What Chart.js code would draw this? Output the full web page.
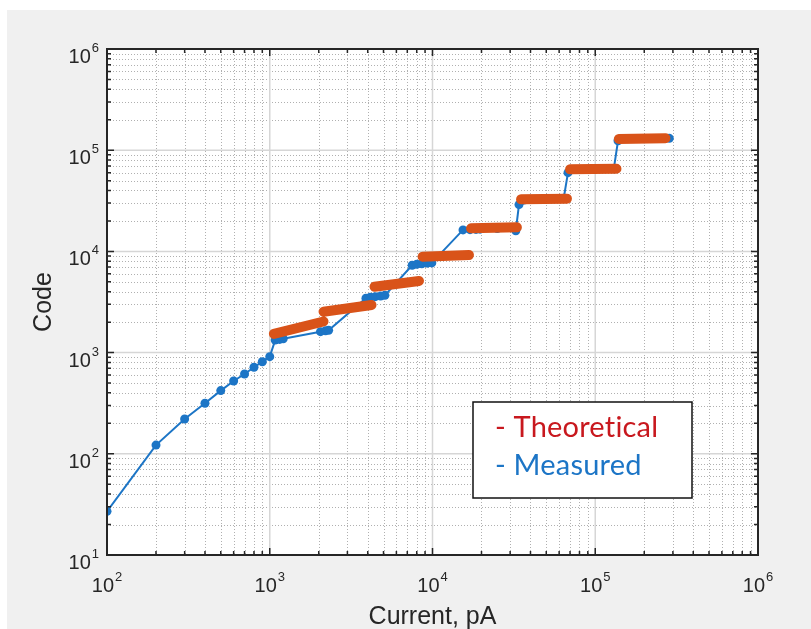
<!DOCTYPE html>
<html lang="en">
<head>
<meta charset="UTF-8">
<title>Code vs Current</title>
<script src="https://cdn.jsdelivr.net/npm/chart.js"></script>
<style>
  html, body { margin: 0; padding: 0; background: #fff; }
  #wrap { width: 811px; height: 629px; position: relative; }
</style>
</head>
<body>
<div id="wrap"><canvas id="chart"></canvas></div>
<script>
// measured sweep, current in pA -> output code
const measuredCurrent = [100, 200, 300, 400, 500, 600, 700, 800, 900, 1000,
    1080, 1150, 1210, 2050, 2200, 2300,
    3900, 4150, 4450, 4800, 5100,
    7500, 8000, 8600, 9300, 9900,
    15400, 17000, 18500, 19600, 25000, 32500,
    34000, 50000, 64000, 68000, 100000, 130000, 138000, 200000, 285000];
const measuredCode = [27, 122, 221, 316, 421, 524, 615, 716, 813, 912,
    1330, 1350, 1370, 1610, 1640, 1660,
    3450, 3520, 3570, 3620, 3680,
    7300, 7450, 7550, 7650, 7700,
    16300, 16400, 16500, 16600, 16800, 16000,
    29000, 33000, 33500, 60000, 65000, 65500, 124000, 130000, 131000];

// theoretical: one straight piece per range
const theoryCurrentFrom = [1060, 2140, 4400, 8690, 17250, 35000, 70000, 139600];
const theoryCurrentTo   = [2140, 4220, 8260, 16750, 33000, 67000, 135000, 270000];
const theoryCodeFrom    = [1530, 2537, 4480, 8870, 16900, 32700, 64700, 129000];
const theoryCodeTo      = [2030, 2954, 5100, 9210, 17300, 33200, 65600, 131000];

const xTickExp = [2, 3, 4, 5, 6];
const yTickExp = [1, 2, 3, 4, 5, 6];
const xTitle = 'Current, pA';
const yTitle = 'Code';
const legendItems = ['- Theoretical', '- Measured'];

const BLUE = '#1c75c6';
const ORANGE = '#d95319';
const AX = '#262626';

const measuredPts = measuredCurrent.map((c, i) => ({ x: c, y: measuredCode[i] }));
const theoryPts = [];
theoryCurrentFrom.forEach((c, i) => {
    theoryPts.push({ x: c, y: theoryCodeFrom[i] });
    theoryPts.push({ x: theoryCurrentTo[i], y: theoryCodeTo[i] });
    theoryPts.push({ x: theoryCurrentTo[i], y: null });
});

const TICK_FONT = '"Liberation Sans", Arial, sans-serif';

function logValues(minExp, maxExp) {
    const out = [];
    for (let e = minExp; e < maxExp; e++) {
        for (let m = 1; m < 10; m++) out.push({ v: m * Math.pow(10, e), major: m === 1 });
    }
    out.push({ v: Math.pow(10, maxExp), major: true });
    return out;
}

const matlabAxes = {
    id: 'matlabAxes',
    beforeDraw(chart) {
        const { ctx, chartArea: a } = chart;
        ctx.save();
        ctx.fillStyle = '#ffffff';
        ctx.fillRect(0, 0, chart.width, chart.height);
        ctx.fillStyle = '#f0f0f0';
        ctx.fillRect(7, 10, chart.width - 7, chart.height - 10);
        ctx.fillStyle = '#ffffff';
        ctx.fillRect(a.left, a.top, a.right - a.left, a.bottom - a.top);
        ctx.restore();
    },
    beforeDatasetsDraw(chart) {
        const { ctx, chartArea: a, scales: { x, y } } = chart;
        const xs = logValues(xTickExp[0], xTickExp[xTickExp.length - 1]);
        const ys = logValues(yTickExp[0], yTickExp[yTickExp.length - 1]);
        ctx.save();
        // minor dotted grid
        ctx.strokeStyle = '#b0b0b0';
        ctx.lineWidth = 1;
        ctx.setLineDash([1, 2]);
        ctx.beginPath();
        xs.filter(t => !t.major).forEach(t => {
            const px = Math.round(x.getPixelForValue(t.v)) + 0.5;
            ctx.moveTo(px, a.top); ctx.lineTo(px, a.bottom);
        });
        ys.filter(t => !t.major).forEach(t => {
            const py = Math.round(y.getPixelForValue(t.v)) + 0.5;
            ctx.moveTo(a.left, py); ctx.lineTo(a.right, py);
        });
        ctx.stroke();
        // major solid grid
        ctx.setLineDash([]);
        ctx.strokeStyle = '#d6d6d6';
        ctx.lineWidth = 1.5;
        ctx.beginPath();
        xs.filter(t => t.major).forEach(t => {
            const px = x.getPixelForValue(t.v);
            ctx.moveTo(px, a.top); ctx.lineTo(px, a.bottom);
        });
        ys.filter(t => t.major).forEach(t => {
            const py = y.getPixelForValue(t.v);
            ctx.moveTo(a.left, py); ctx.lineTo(a.right, py);
        });
        ctx.stroke();
        ctx.restore();
    },
    afterDatasetsDraw(chart) {
        const { ctx, chartArea: a, scales: { x, y } } = chart;
        const xs = logValues(xTickExp[0], xTickExp[xTickExp.length - 1]);
        const ys = logValues(yTickExp[0], yTickExp[yTickExp.length - 1]);
        ctx.save();
        // ticks on all four sides, pointing in
        ctx.strokeStyle = AX;
        ctx.lineWidth = 1.5;
        ctx.beginPath();
        xs.forEach(t => {
            const px = x.getPixelForValue(t.v);
            const len = t.major ? 7 : 4;
            ctx.moveTo(px, a.bottom); ctx.lineTo(px, a.bottom - len);
            ctx.moveTo(px, a.top); ctx.lineTo(px, a.top + len);
        });
        ys.forEach(t => {
            const py = y.getPixelForValue(t.v);
            const len = t.major ? 7 : 4;
            ctx.moveTo(a.left, py); ctx.lineTo(a.left + len, py);
            ctx.moveTo(a.right, py); ctx.lineTo(a.right - len, py);
        });
        ctx.stroke();
        ctx.lineWidth = 2;
        ctx.strokeRect(a.left, a.top, a.right - a.left, a.bottom - a.top);

        // tick labels 10^n
        ctx.fillStyle = AX;
        ctx.textBaseline = 'alphabetic';
        const base = '20px ' + TICK_FONT;
        const sup = '13px ' + TICK_FONT;
        xTickExp.forEach(e => {
            const px = x.getPixelForValue(Math.pow(10, e));
            ctx.font = base; const w1 = ctx.measureText('10').width;
            ctx.font = sup; const w2 = ctx.measureText(String(e)).width;
            const left = px - (w1 + w2 + 1) / 2;
            ctx.textAlign = 'left';
            ctx.font = base; ctx.fillText('10', left, 592);
            ctx.font = sup; ctx.fillText(String(e), left + w1 + 1, 581);
        });
        yTickExp.forEach(e => {
            const py = y.getPixelForValue(Math.pow(10, e));
            ctx.font = sup; const w2 = ctx.measureText(String(e)).width;
            ctx.textAlign = 'right';
            ctx.fillText(String(e), 99, py + 3);
            ctx.font = base; ctx.fillText('10', 99 - w2 - 1, py + 14);
        });

        // axis titles
        ctx.font = '25px ' + TICK_FONT;
        ctx.textAlign = 'center';
        ctx.fillText(xTitle, (a.left + a.right) / 2, 624);
        ctx.save();
        ctx.translate(51, (a.top + a.bottom) / 2);
        ctx.rotate(-Math.PI / 2);
        ctx.fillText(yTitle, 0, 0);
        ctx.restore();

        // text legend box
        ctx.fillStyle = '#ffffff';
        ctx.fillRect(473, 402, 219, 96);
        ctx.strokeStyle = '#111';
        ctx.lineWidth = 1.5;
        ctx.strokeRect(473, 402, 219, 96);
        ctx.textAlign = 'left';
        ctx.letterSpacing = '0.2px';
        ctx.font = '29px Lato, "Open Sans", sans-serif';
        ctx.fillStyle = '#c8181e';
        ctx.fillText(legendItems[0], 495, 437);
        ctx.fillStyle = BLUE;
        ctx.fillText(legendItems[1], 495, 475);
        ctx.restore();
    }
};

new Chart(document.getElementById('chart'), {
    type: 'scatter',
    data: {
        datasets: [{
            label: 'Theoretical',
            data: theoryPts,
            showLine: true,
            spanGaps: false,
            borderColor: ORANGE,
            backgroundColor: ORANGE,
            borderWidth: 10,
            borderCapStyle: 'round',
            borderJoinStyle: 'round',
            pointRadius: 0,
            order: 0
        }, {
            label: 'Measured',
            data: measuredPts,
            showLine: true,
            borderColor: BLUE,
            backgroundColor: BLUE,
            borderWidth: 2,
            pointRadius: 4.5,
            pointBorderWidth: 0,
            order: 1
        }]
    },
    options: {
        responsive: true,
        maintainAspectRatio: false,
        animation: false,
        layout: { padding: { left: 107, right: 53, top: 49, bottom: 74 } },
        scales: {
            x: { type: 'logarithmic', min: 100, max: 1e6, display: false },
            y: { type: 'logarithmic', min: 10, max: 1e6, display: false }
        },
        plugins: { legend: { display: false }, tooltip: { enabled: false } }
    },
    plugins: [matlabAxes]
});
</script>
</body>
</html>
